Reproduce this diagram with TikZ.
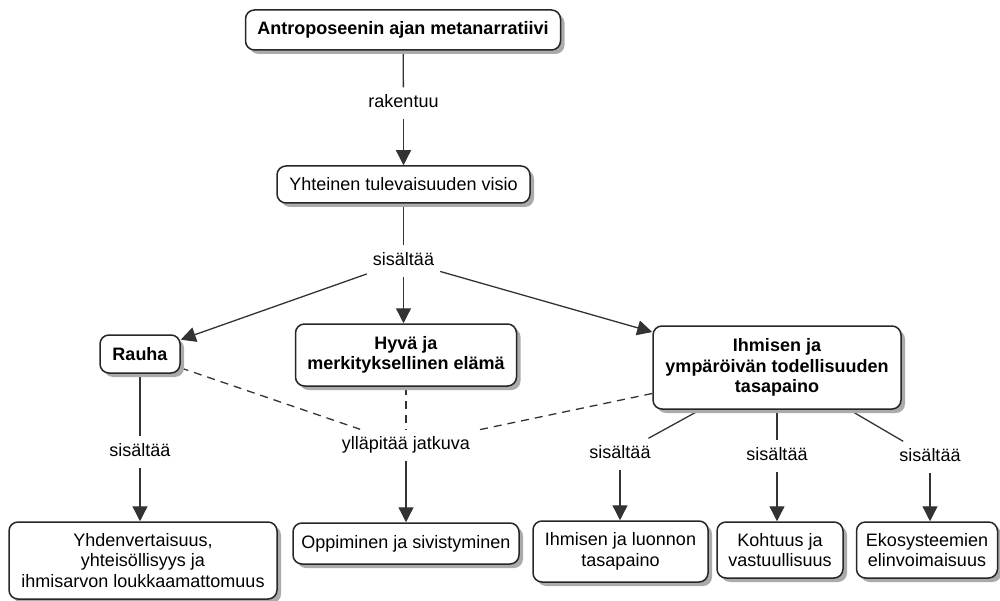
\documentclass[tikz,border=0pt]{standalone}
\usepackage{fontspec}
\setmainfont{Liberation Sans}
\usetikzlibrary{arrows.meta,shadows,backgrounds}
\tikzset{
  rfont/.style={font=\fontsize{18}{20.5}\selectfont},
  bfont/.style={font=\fontsize{18}{20.5}\selectfont\bfseries},
  concept/.style={rfont, draw=black!85, line width=1.5pt, rounded corners=9pt, fill=white,
    align=center, inner sep=0pt,
    drop shadow={shadow xshift=4pt, shadow yshift=-4pt, fill=black!33, opacity=1}},
  lbl/.style={rfont, inner sep=0pt, inner xsep=6pt, minimum height=31pt, text height=13pt, text depth=4pt},
  link/.style={draw=black!80, line width=1.3pt},
  arr/.style={link, -{Triangle[length=15pt,width=15pt]}},
  dlink/.style={link, dash pattern=on 8pt off 6pt}
}
\begin{document}
\begin{tikzpicture}[x=1pt,y=-1pt]
\useasboundingbox (0,0) rectangle (1000,601);
% concepts
\node[concept, bfont, minimum width=315pt, minimum height=40pt] (top) at (403,30) {Antroposeenin ajan metanarratiivi};
\node[concept, minimum width=253pt, minimum height=37pt] (yht) at (403.5,184.5) {Yhteinen tulevaisuuden visio};
\node[concept, bfont, minimum width=80pt, minimum height=38pt] (rauha) at (140,354) {Rauha};
\node[concept, bfont, minimum width=221pt, minimum height=62pt] (hyva) at (406,355) {Hyvä ja\\merkityksellinen elämä};
\node[concept, bfont, minimum width=248pt, minimum height=83pt] (ihm) at (777,367.5) {Ihmisen ja\\ympäröivän todellisuuden\\tasapaino};
\node[concept, minimum width=268pt, minimum height=77pt] (yhd) at (143,560.5) {Yhdenvertaisuus,\\yhteisöllisyys ja\\ihmisarvon loukkaamattomuus};
\node[concept, minimum width=226pt, minimum height=41pt] (opp) at (406,543.5) {Oppiminen ja sivistyminen};
\node[concept, minimum width=175pt, minimum height=61pt] (ihl) at (620.5,551.5) {Ihmisen ja luonnon\\tasapaino};
\node[concept, minimum width=126pt, minimum height=56pt] (koh) at (780,550) {Kohtuus ja\\vastuullisuus};
\node[concept, minimum width=141pt, minimum height=56pt] (eko) at (927,550) {Ekosysteemien\\elinvoimaisuus};
% link labels
\node[lbl] (rak) at (403.5,103) {rakentuu};
\node[lbl] (s1) at (403.5,261) {sisältää};
\node[lbl] (s2) at (140,452) {sisältää};
\node[lbl] (yl) at (406,445) {ylläpitää jatkuva};
\node[lbl] (s3) at (620,454) {sisältää};
\node[lbl] (s4) at (777,456) {sisältää};
\node[lbl] (s5) at (930,457) {sisältää};
% plain and dashed links (behind boxes and shadows)
\begin{scope}[on background layer]
\draw[link] (top) -- (rak);
\draw[link] (yht) -- (s1);
\draw[link] (rauha) -- (s2);
\draw[link] (ihm) -- (s3);
\draw[link] (ihm) -- (s4);
\draw[link] (ihm) -- (s5);
\draw[dlink] (rauha) -- (yl);
\draw[dlink] (hyva) -- (yl);
\draw[dlink] (ihm) -- (yl);
\end{scope}
% arrows
\draw[arr] (rak) -- (rak |- yht.north);
\draw[arr] (s1) -- (rauha);
\draw[arr] (s1) -- (s1 |- hyva.north);
\draw[arr] (s1) -- (ihm);
\draw[arr] (s2) -- (s2 |- yhd.north);
\draw[arr] (yl) -- (yl |- opp.north);
\draw[arr] (s3) -- (s3 |- ihl.north);
\draw[arr] (s4) -- (s4 |- koh.north);
\draw[arr] (s5) -- (s5 |- eko.north);
\end{tikzpicture}
\end{document}
